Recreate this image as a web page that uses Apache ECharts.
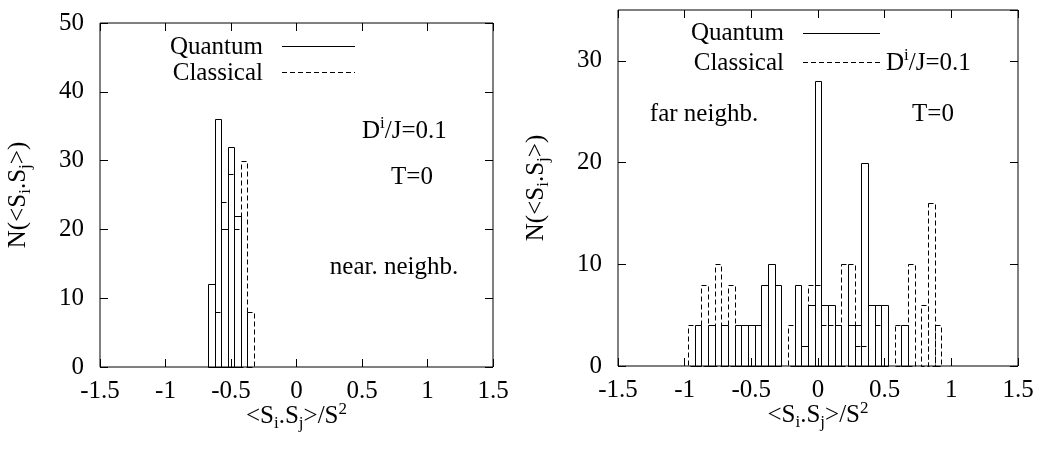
<!DOCTYPE html>
<html>
<head>
<meta charset="utf-8">
<script src="https://cdn.jsdelivr.net/npm/echarts@6/dist/echarts.min.js"></script>
<style>
  html, body { margin: 0; padding: 0; background: #fff; }
  #main { width: 1052px; height: 458px; }
</style>
</head>
<body>
<div id="main"></div>
<script>
// bin width of both histograms
var BIN = 0.05;

// near neighbours (left panel)
var nearQuantumX = [-0.65, -0.6, -0.55, -0.5, -0.45];
var nearQuantumN = [12, 36, 20, 32, 22];
var nearClassicalX = [-0.6, -0.55, -0.5, -0.45, -0.4, -0.35];
var nearClassicalN = [8, 24, 28, 20, 30, 8];

// far neighbours (right panel)
var farQuantumX = [-0.9, -0.8, -0.7, -0.6, -0.55, -0.5, -0.45, -0.4, -0.35, -0.3, -0.15, -0.1, -0.05, 0, 0.05, 0.1, 0.15, 0.25, 0.3, 0.35, 0.4, 0.45, 0.5, 0.65];
var farQuantumN = [4, 4, 4, 4, 4, 4, 4, 8, 10, 8, 8, 2, 6, 28, 6, 6, 4, 4, 4, 20, 6, 6, 6, 4];
var farClassicalX = [-0.95, -0.85, -0.75, -0.65, -0.2, -0.05, 0, 0.05, 0.1, 0.15, 0.2, 0.25, 0.3, 0.35, 0.45, 0.6, 0.7, 0.8, 0.85, 0.9];
var farClassicalN = [4, 8, 10, 8, 4, 8, 8, 4, 4, 4, 10, 10, 2, 2, 4, 4, 10, 6, 16, 4];

var FONT = 'Liberation Serif';
var FS = 25;

function pairs(xs, ns) {
  var out = [];
  for (var i = 0; i < xs.length; i++) {
    out.push([xs[i], ns[i]]);
  }
  return out;
}

// outline box for each histogram bin
function boxItem(dashed) {
  return function (params, api) {
    var x = api.value(0);
    var y = api.value(1);
    var p0 = api.coord([x - BIN / 2, y]);
    var p1 = api.coord([x + BIN / 2, 0]);
    var x0 = Math.round(p0[0]) + 0.5, x1 = Math.round(p1[0]) + 0.5;
    var y0 = Math.round(p0[1]) + 0.5, y1 = Math.round(p1[1]) + 0.5;
    return {
      type: 'rect',
      shape: {x: x0, y: y0, width: x1 - x0, height: y1 - y0},
      style: {fill: 'none', stroke: '#000', lineWidth: 1, lineDash: dashed ? [5, 3] : null}
    };
  };
}

var rich = {
  sub: {fontFamily: FONT, fontSize: 17, padding: [14, 0, 0, 0], color: '#000'},
  sup: {fontFamily: FONT, fontSize: 17, padding: [0, 0, 14, 0], color: '#000'}
};

var tickStyle = {inside: true, length: 8, lineStyle: {color: '#000'}};

function xAxisFor(gi) {
  return [{
    type: 'value', gridIndex: gi, min: -1.5, max: 1.5, interval: 0.5,
    axisLine: {show: false, onZero: false},
    axisTick: tickStyle,
    axisLabel: {fontFamily: FONT, fontSize: FS, color: '#000', margin: 12},
    splitLine: {show: false},
    name: '<S{sub|i}.S{sub|j}>/S{sup|2}',
    nameLocation: 'middle', nameGap: 34, nameMoveOverlap: false,
    nameTextStyle: {fontFamily: FONT, fontSize: FS, color: '#000', rich: rich}
  }, {
    type: 'value', gridIndex: gi, position: 'top', min: -1.5, max: 1.5, interval: 0.5,
    axisLine: {show: false, onZero: false},
    axisTick: tickStyle,
    axisLabel: {show: false},
    splitLine: {show: false}
  }];
}

function yAxisFor(gi, max) {
  return [{
    type: 'value', gridIndex: gi, min: 0, max: max, interval: 10,
    axisLine: {show: false, onZero: false},
    axisTick: tickStyle,
    axisLabel: {fontFamily: FONT, fontSize: FS, color: '#000', margin: 16, showMaxLabel: max % 10 === 0},
    splitLine: {show: false},
    name: 'N(<S{sub|i}.S{sub|j}>)',
    nameLocation: 'middle', nameRotate: 90, nameGap: 66,
    nameTextStyle: {fontFamily: FONT, fontSize: FS, color: '#000', rich: rich}
  }, {
    type: 'value', gridIndex: gi, position: 'right', min: 0, max: max, interval: 10,
    axisLine: {show: false, onZero: false},
    axisTick: tickStyle,
    axisLabel: {show: false},
    splitLine: {show: false}
  }];
}

function txt(x, y, text, align) {
  return {
    type: 'text', x: x, y: y,
    style: {text: text, fontFamily: FONT, fontSize: FS, fill: '#000', align: align || 'left', verticalAlign: 'middle', rich: rich}
  };
}
function seg(x1, x2, y, dashed) {
  return {
    type: 'line',
    shape: {x1: x1, y1: y + 0.5, x2: x2, y2: y + 0.5},
    style: {stroke: '#000', lineWidth: 1, lineDash: dashed ? [5, 3] : null}
  };
}

var chart = echarts.init(document.getElementById('main'), null, {renderer: 'canvas'});

var option = {
  backgroundColor: '#fff',
  animation: false,
  grid: [
    {left: 100, top: 23, width: 393, height: 344, show: true, borderColor: '#000', borderWidth: 1, backgroundColor: 'transparent'},
    {left: 618, top: 10, width: 400, height: 356, show: true, borderColor: '#000', borderWidth: 1, backgroundColor: 'transparent'}
  ],
  xAxis: xAxisFor(0).concat(xAxisFor(1)),
  yAxis: yAxisFor(0, 50).concat(yAxisFor(1, 35)),
  series: [
    {name: 'Classical', type: 'custom', xAxisIndex: 0, yAxisIndex: 0, renderItem: boxItem(true), data: pairs(nearClassicalX, nearClassicalN)},
    {name: 'Quantum', type: 'custom', xAxisIndex: 0, yAxisIndex: 0, renderItem: boxItem(false), data: pairs(nearQuantumX, nearQuantumN)},
    {name: 'Classical', type: 'custom', xAxisIndex: 2, yAxisIndex: 2, renderItem: boxItem(true), data: pairs(farClassicalX, farClassicalN)},
    {name: 'Quantum', type: 'custom', xAxisIndex: 2, yAxisIndex: 2, renderItem: boxItem(false), data: pairs(farQuantumX, farQuantumN)}
  ],
  graphic: [
    // left panel key and notes
    txt(263, 47, 'Quantum', 'right'),
    seg(282, 355, 46, false),
    txt(263, 73, 'Classical', 'right'),
    seg(282, 355, 72, true),
    txt(362, 131, 'D{sup|i}/J=0.1'),
    txt(412, 177, 'T=0', 'center'),
    txt(394, 267, 'near. neighb.', 'center'),
    // right panel key and notes
    txt(784, 33, 'Quantum', 'right'),
    seg(803, 880, 33, false),
    txt(784, 63, 'Classical', 'right'),
    seg(803, 880, 62, true),
    txt(886, 63, 'D{sup|i}/J=0.1'),
    txt(933, 114, 'T=0', 'center'),
    txt(704, 114, 'far neighb.', 'center')
  ]
};

chart.setOption(option);
</script>
</body>
</html>
